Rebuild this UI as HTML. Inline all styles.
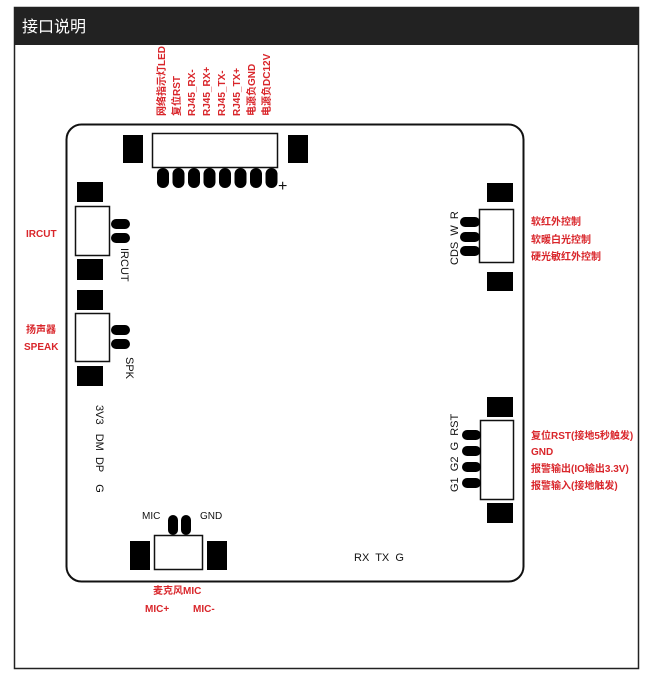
<!DOCTYPE html>
<html><head><meta charset="utf-8"><style>
html,body{margin:0;padding:0;background:#fff;}
svg{display:block;}
.r{fill:#d9262b;font-family:"Liberation Sans","Noto Sans CJK SC",sans-serif;font-weight:bold;font-size:10px;}
.k{fill:#111;font-family:"Liberation Sans","Noto Sans CJK SC",sans-serif;font-size:11px;}
</style></head><body>
<svg width="657" height="696" viewBox="0 0 657 696" xmlns="http://www.w3.org/2000/svg">
<rect x="14.5" y="7.5" width="624" height="661" fill="#fff" stroke="#222" stroke-width="1.5"/>
<rect x="14" y="7" width="625" height="38" fill="#222"/>
<text x="22" y="32" fill="#fff" font-family="'Liberation Sans','Noto Sans CJK SC',sans-serif" font-size="16">接口说明</text>
<rect x="66.5" y="124.5" width="457" height="457" rx="15" fill="none" stroke="#111" stroke-width="2"/>
<g class="r">
<text transform="translate(165,116) rotate(-90)">网络指示灯LED</text>
<text transform="translate(180,116) rotate(-90)">复位RST</text>
<text transform="translate(195,116) rotate(-90)">RJ45_RX-</text>
<text transform="translate(210,116) rotate(-90)">RJ45_RX+</text>
<text transform="translate(225,116) rotate(-90)">RJ45_TX-</text>
<text transform="translate(240,116) rotate(-90)">RJ45_TX+</text>
<text transform="translate(255,116) rotate(-90)">电源负GND</text>
<text transform="translate(270,116) rotate(-90)">电源负DC12V</text>
</g>
<rect x="123" y="135" width="20" height="28" fill="#000"/>
<rect x="288" y="135" width="20" height="28" fill="#000"/>
<rect x="152.5" y="133.5" width="125" height="34" fill="#fff" stroke="#111" stroke-width="1.5"/>
<g fill="#000">
<rect x="157" y="168" width="12" height="20" rx="6"/>
<rect x="172.5" y="168" width="12" height="20" rx="6"/>
<rect x="188" y="168" width="12" height="20" rx="6"/>
<rect x="203.5" y="168" width="12" height="20" rx="6"/>
<rect x="219" y="168" width="12" height="20" rx="6"/>
<rect x="234.5" y="168" width="12" height="20" rx="6"/>
<rect x="250" y="168" width="12" height="20" rx="6"/>
<rect x="265.5" y="168" width="12" height="20" rx="6"/>
</g>
<text x="278" y="191" class="k" style="font-size:16px">+</text>
<rect x="77" y="182" width="26" height="20" fill="#000"/>
<rect x="75.5" y="206.5" width="34" height="49" fill="#fff" stroke="#111" stroke-width="1.5"/>
<rect x="77" y="259" width="26" height="21" fill="#000"/>
<rect x="111" y="219" width="19" height="10" rx="5" fill="#000"/>
<rect x="111" y="233" width="19" height="10" rx="5" fill="#000"/>
<text class="k" transform="translate(121,248) rotate(90)">IRCUT</text>
<rect x="77" y="290" width="26" height="20" fill="#000"/>
<rect x="75.5" y="313.5" width="34" height="48" fill="#fff" stroke="#111" stroke-width="1.5"/>
<rect x="77" y="366" width="26" height="20" fill="#000"/>
<rect x="111" y="325" width="19" height="10" rx="5" fill="#000"/>
<rect x="111" y="339" width="19" height="10" rx="5" fill="#000"/>
<text class="k" transform="translate(126,357) rotate(90)">SPK</text>
<g class="r">
<text x="26" y="237">IRCUT</text>
<text x="26" y="333">扬声器</text>
<text x="24" y="350">SPEAK</text>
</g>
<text class="k" transform="translate(96,405) rotate(90)" xml:space="preserve">3V3   DM  DP    G</text>
<rect x="487" y="183" width="26" height="19" fill="#000"/>
<rect x="479.5" y="209.5" width="34" height="53" fill="#fff" stroke="#111" stroke-width="1.5"/>
<rect x="487" y="272" width="26" height="19" fill="#000"/>
<rect x="460" y="217" width="20" height="10" rx="5" fill="#000"/>
<rect x="460" y="232" width="20" height="10" rx="5" fill="#000"/>
<rect x="460" y="246" width="20" height="10" rx="5" fill="#000"/>
<text class="k" transform="translate(458,265) rotate(-90)" xml:space="preserve">CDS  W  R</text>
<g class="r">
<text x="531" y="225">软红外控制</text>
<text x="531" y="243">软暖白光控制</text>
<text x="531" y="260">硬光敏红外控制</text>
</g>
<rect x="487" y="397" width="26" height="20" fill="#000"/>
<rect x="480.5" y="420.5" width="33" height="79" fill="#fff" stroke="#111" stroke-width="1.5"/>
<rect x="487" y="503" width="26" height="20" fill="#000"/>
<rect x="462" y="430" width="19" height="10" rx="5" fill="#000"/>
<rect x="462" y="446" width="19" height="10" rx="5" fill="#000"/>
<rect x="462" y="462" width="19" height="10" rx="5" fill="#000"/>
<rect x="462" y="478" width="19" height="10" rx="5" fill="#000"/>
<text class="k" transform="translate(458,492) rotate(-90)" xml:space="preserve">G1  G2  G  RST</text>
<g class="r">
<text x="531" y="439">复位RST(接地5秒触发)</text>
<text x="531" y="455">GND</text>
<text x="531" y="472">报警输出(IO输出3.3V)</text>
<text x="531" y="489">报警输入(接地触发)</text>
</g>
<rect x="130" y="541" width="20" height="29" fill="#000"/>
<rect x="154.5" y="535.5" width="48" height="34" fill="#fff" stroke="#111" stroke-width="1.5"/>
<rect x="207" y="541" width="20" height="29" fill="#000"/>
<rect x="168" y="515" width="10" height="20" rx="5" fill="#000"/>
<rect x="181" y="515" width="10" height="20" rx="5" fill="#000"/>
<text class="k" x="142" y="519" style="font-size:10px">MIC</text>
<text class="k" x="200" y="519" style="font-size:10px">GND</text>
<text class="k" x="354" y="561" xml:space="preserve">RX  TX  G</text>
<g class="r">
<text x="153" y="594">麦克风MIC</text>
<text x="145" y="612">MIC+</text>
<text x="193" y="612">MIC-</text>
</g>
</svg>
</body></html>
